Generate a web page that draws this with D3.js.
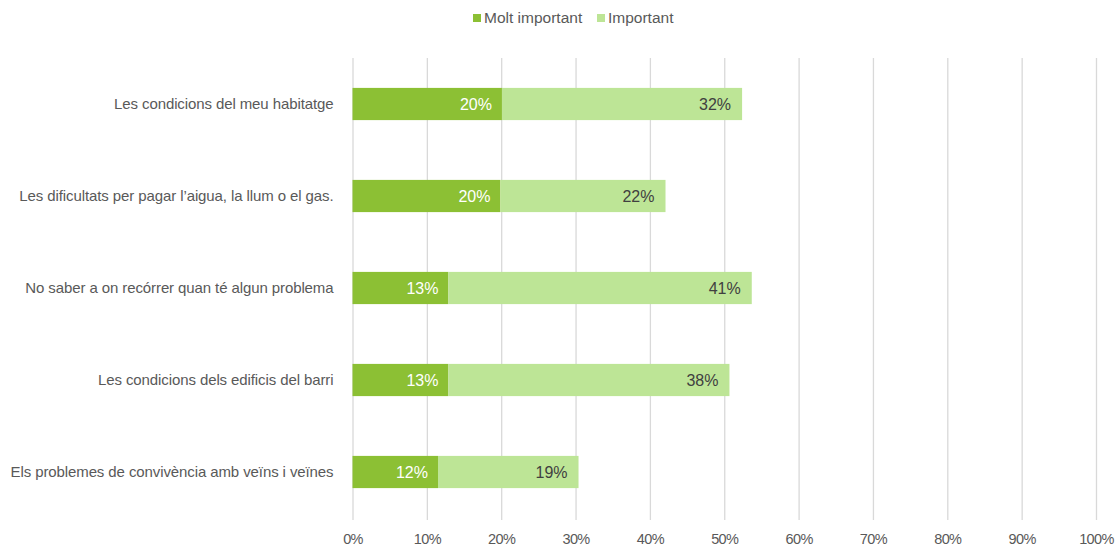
<!DOCTYPE html>
<html>
<head>
<meta charset="utf-8">
<script src="https://cdn.jsdelivr.net/npm/d3@7"></script>
<style>
  body { margin: 0; background: #fff; }
  text { font-family: "Liberation Sans", Arial, sans-serif; }
</style>
</head>
<body>
<div id="chart"></div>
<script>
// Data
const categories = [
  "Les condicions del meu habitatge",
  "Les dificultats per pagar l’aigua, la llum o el gas.",
  "No saber a on recórrer quan té algun problema",
  "Les condicions dels edificis del barri",
  "Els problemes de convivència amb veïns i veïnes"
]
const seriesNames = ["Molt important", "Important"]
const moltImportant = [20.1, 19.9, 12.9, 12.9, 11.5]
const important = [32.3, 22.2, 40.8, 37.8, 18.9]
const xTicks = [0, 10, 20, 30, 40, 50, 60, 70, 80, 90, 100]

const colors = ["#8cc034", "#bde596"]
const textColor = "#595959"

// Dimensions
const width = 1118, height = 551
const margin = {top: 58, right: 22, bottom: 33, left: 352.5}
const plotWidth = width - margin.left - margin.right
const plotHeight = height - margin.top - margin.bottom

const svg = d3.select("#chart").append("svg")
    .attr("width", width)
    .attr("height", height)

const plot = svg.append("g")
    .attr("transform", `translate(${margin.left},${margin.top})`)

const xScale = d3.scaleLinear().domain([0, 100]).range([0, plotWidth])
const yScale = d3.scaleBand().domain(categories).range([0, plotHeight]).paddingInner(0.65).paddingOuter(0.325)

// Grid lines
plot.append("g")
    .attr("class", "grid")
    .call(d3.axisBottom(xScale).tickValues(xTicks).tickSize(plotHeight + 2).tickFormat(""))
  .call(g => g.select(".domain").remove())
  .call(g => g.selectAll("line").attr("stroke", "#d9d9d9").attr("stroke-width", 1.3))

// X axis labels
plot.append("g")
    .attr("transform", `translate(0,${plotHeight})`)
    .call(d3.axisBottom(xScale).tickValues(xTicks).tickSize(0).tickPadding(16).tickFormat(d => d + "%"))
  .call(g => g.select(".domain").remove())
  .call(g => g.selectAll("text").attr("fill", textColor).style("font-size", "14.5px").attr("letter-spacing", "-0.6px"))

// Y axis labels
plot.append("g")
    .call(d3.axisLeft(yScale).tickSize(0).tickPadding(19))
  .call(g => g.select(".domain").remove())
  .call(g => g.selectAll("text").attr("fill", textColor).style("font-size", "15px").attr("letter-spacing", "-0.1px"))

// Stacked data
const rows = categories.map((c, i) => ({cat: c, v0: moltImportant[i], v1: important[i]}))

// Bars
plot.selectAll(".bar-dark")
    .data(rows)
    .enter().append("rect")
    .attr("x", xScale(0))
    .attr("y", d => yScale(d.cat))
    .attr("width", d => xScale(d.v0) - xScale(0))
    .attr("height", yScale.bandwidth())
    .attr("fill", colors[0])

plot.selectAll(".bar-light")
    .data(rows)
    .enter().append("rect")
    .attr("x", d => xScale(d.v0))
    .attr("y", d => yScale(d.cat))
    .attr("width", d => xScale(d.v0 + d.v1) - xScale(d.v0))
    .attr("height", yScale.bandwidth())
    .attr("fill", colors[1])

// Bar labels
plot.selectAll(".lbl-dark")
    .data(rows)
    .enter().append("text")
    .attr("x", d => xScale(d.v0) - 10)
    .attr("y", d => yScale(d.cat) + yScale.bandwidth() / 2)
    .attr("dy", "0.36em")
    .attr("text-anchor", "end")
    .attr("fill", "#ffffff")
    .style("font-size", "16px")
    .text(d => Math.round(d.v0) + "%")

plot.selectAll(".lbl-light")
    .data(rows)
    .enter().append("text")
    .attr("x", d => xScale(d.v0 + d.v1) - 11)
    .attr("y", d => yScale(d.cat) + yScale.bandwidth() / 2)
    .attr("dy", "0.36em")
    .attr("text-anchor", "end")
    .attr("fill", "#404040")
    .style("font-size", "16px")
    .text(d => Math.round(d.v1) + "%")

// Legend
const legendX = [473, 597]
const legend = svg.selectAll(".legend")
    .data(seriesNames)
    .enter().append("g")
    .attr("transform", (d, i) => `translate(${legendX[i]},17)`)

legend.append("rect")
    .attr("x", 0).attr("y", -3)
    .attr("width", 8).attr("height", 8)
    .attr("fill", (d, i) => colors[i])

legend.append("text")
    .attr("x", 11)
    .attr("y", 0)
    .attr("dy", "0.36em")
    .attr("fill", textColor)
    .style("font-size", "15.5px")
    .text(d => d)
</script>
</body>
</html>
